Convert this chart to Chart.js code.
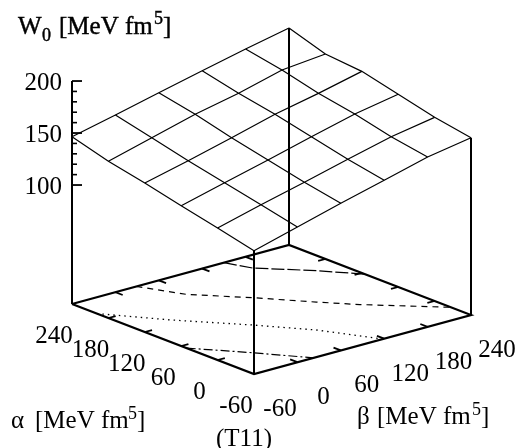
<!DOCTYPE html>
<html>
<head>
<meta charset="utf-8">
<script src="https://cdn.jsdelivr.net/npm/chart.js@4/dist/chart.umd.js"></script>
<style>html,body{margin:0;padding:0;background:#fff}canvas{display:block}</style>
</head>
<body>
<canvas id="c" width="518" height="448"></canvas>
<script>
// ---- data ----
const alphaTicks = [-60, 0, 60, 120, 180, 240];
const betaTicks  = [-60, 0, 60, 120, 180, 240];
const zMajorTicks = [100, 150, 200];
const zMinorTicks = [110, 120, 130, 140, 160, 170, 180, 190];

// W0 over beta = -60 ... 240, one row for each alpha
const w0AlphaM60 = [104.2, 115.6, 127.0, 137.8, 148.9, 156.1];
const w0Alpha0   = [112.5, 123.6, 133.8, 144.5, 154.9, 162.2];
const w0Alpha60  = [120.5, 131.3, 141.7, 152.8, 163.3, 170.9];
const w0Alpha120 = [128.9, 139.0, 149.7, 160.9, 169.7, 179.5];
const w0Alpha180 = [136.3, 147.6, 158.8, 167.6, 178.7, 182.7];
const w0Alpha240 = [146.5, 156.0, 166.1, 175.9, 185.4, 194.2];

// contours projected on the base
const contour120Alpha = [51, -6, -33, -60];
const contour120Beta  = [-60, -16, 3, 22];
const contour140Alpha = [199, 133, 64, 8, -60];
const contour140Beta  = [-60, -14, 42, 83, 118];
const contour160Alpha = [240, 186, 132, 78, 42, -27];
const contour160Beta  = [29, 53, 100, 142, 172, 240];
const contour180Alpha = [240, 207, 157, 115];
const contour180Beta  = [150, 162, 208, 240];

// ---- projection of (alpha, beta, W0) to the plane of the page ----
const W_W = 518, W_H = 448;
const Z_FLOOR = -14.4;
function proj(alpha, beta, z) {
  const a = (alpha + 60) / 60, b = (beta + 60) / 60;
  return { x: 254 - 36.4 * a + 43.4 * b,
           y: 374 - 14 * a - 11.8 * b - (z - Z_FLOOR) * 1.04 };
}
const floorPt = (alpha, beta) => proj(alpha, beta, Z_FLOOR);
const aMin = alphaTicks[0], aMax = alphaTicks[alphaTicks.length - 1];
const bMin = betaTicks[0], bMax = betaTicks[betaTicks.length - 1];

const rows = [w0AlphaM60, w0Alpha0, w0Alpha60, w0Alpha120, w0Alpha180, w0Alpha240];
const datasets = [];
function line(data, width, dash) {
  datasets.push({ data, borderColor: '#000', borderWidth: width, borderDash: dash || [],
    pointRadius: 0, tension: 0, fill: false, showLine: true, borderCapStyle: 'butt', borderJoinStyle: 'miter' });
}
// surface mesh
rows.forEach((row, i) => line(row.map((z, j) => proj(alphaTicks[i], betaTicks[j], z)), 1.2));
betaTicks.forEach((beta, j) => line(rows.map((row, i) => proj(alphaTicks[i], beta, row[j])), 1.2));
// base frame
line([floorPt(aMax, bMin), floorPt(aMin, bMin), floorPt(aMin, bMax), floorPt(aMax, bMax), floorPt(aMax, bMin)], 2.2);
// verticals
line([floorPt(aMin, bMin), proj(aMin, bMin, rows[0][0])], 2);
line([floorPt(aMin, bMax), proj(aMin, bMax, rows[0][5])], 2);
line([floorPt(aMax, bMax), proj(aMax, bMax, rows[5][5])], 2);
line([floorPt(aMax, bMin), proj(aMax, bMin, zMajorTicks[2])], 2);
// base ticks (inner, mirrored)
alphaTicks.slice(1, -1).forEach(alpha => {
  line([floorPt(alpha, bMin), floorPt(alpha, bMin + 10)], 1.8);
  line([floorPt(alpha, bMax), floorPt(alpha, bMax - 10)], 1.8);
});
betaTicks.slice(1, -1).forEach(beta => {
  line([floorPt(aMin, beta), floorPt(aMin + 12, beta)], 1.8);
  line([floorPt(aMax, beta), floorPt(aMax - 12, beta)], 1.8);
});
// z-axis ticks
const zTickAt = (z, len) => { const p = proj(aMax, bMin, z); return [p, { x: p.x + len, y: p.y }]; };
zMajorTicks.forEach(z => line(zTickAt(z, 10), 1.8));
zMinorTicks.forEach(z => line(zTickAt(z, 5), 1.6));
// contours
const contour = (A, B) => A.map((al, i) => floorPt(al, B[i]));
line(contour(contour120Alpha, contour120Beta), 1.2, [9, 3, 2, 3]);
line(contour(contour140Alpha, contour140Beta), 1.3, [1.5, 4]);
line(contour(contour160Alpha, contour160Beta), 1.2, [6, 5]);
line(contour(contour180Alpha, contour180Beta), 1.2, [13, 3]);

// ---- text ----
const SERIF = '"Liberation Serif", serif';
const mainFont = '25px ' + SERIF, smallFont = '18px ' + SERIF;
const zTitle = [['W', 18, 34, mainFont], ['0', 42, 41, smallFont], ['[MeV fm', 59, 34, mainFont], ['5', 154, 24, smallFont], [']', 163, 34, mainFont]];
const alphaTitle = [['α', 11, 428, mainFont], ['[MeV fm', 35, 428, mainFont], ['5', 128, 419, smallFont], [']', 137, 428, mainFont]];
const betaTitle = [['β', 357, 424, mainFont], ['[MeV fm', 377, 424, mainFont], ['5', 472, 415, smallFont], [']', 481, 424, mainFont]];
const caption = [['(T11)', 216, 446, mainFont]];

const textPlugin = {
  id: 'axisText',
  afterDraw(chart) {
    const { ctx, scales: { x, y } } = chart;
    const px = p => ({ x: x.getPixelForValue(p.x), y: y.getPixelForValue(p.y) });
    ctx.save();
    ctx.fillStyle = '#000';
    ctx.strokeStyle = '#000';
    ctx.textBaseline = 'alphabetic';
    ctx.font = mainFont;
    ctx.textAlign = 'center';
    alphaTicks.forEach(v => { const p = px(floorPt(v, bMin)); ctx.fillText(String(v), p.x - 18, p.y + 39); });
    betaTicks.forEach(v => { const p = px(floorPt(aMin, v)); ctx.fillText(String(v), p.x + 26, p.y + 42); });
    ctx.textAlign = 'right';
    zMajorTicks.forEach(v => { const p = px(proj(aMax, bMin, v)); ctx.fillText(String(v), p.x - 10, p.y + 9); });
    ctx.textAlign = 'left';
    [alphaTitle, betaTitle, caption].forEach(parts => parts.forEach(([t, tx, ty, f]) => {
      ctx.font = f; ctx.fillText(t, tx, ty);
    }));
    // the W0 title is set heavier than the others
    ctx.lineWidth = 0.45;
    zTitle.forEach(([t, tx, ty, f]) => { ctx.font = f; ctx.fillText(t, tx, ty); ctx.strokeText(t, tx, ty); });
    ctx.restore();
  }
};

new Chart(document.getElementById('c'), {
  type: 'scatter',
  data: { datasets },
  options: {
    responsive: false,
    animation: false,
    layout: { padding: 0 },
    plugins: { legend: { display: false }, title: { display: false }, tooltip: { enabled: false } },
    scales: {
      x: { type: 'linear', display: false, min: 0, max: W_W },
      y: { type: 'linear', display: false, min: 0, max: W_H, reverse: true }
    }
  },
  plugins: [textPlugin]
});
</script>
</body>
</html>
